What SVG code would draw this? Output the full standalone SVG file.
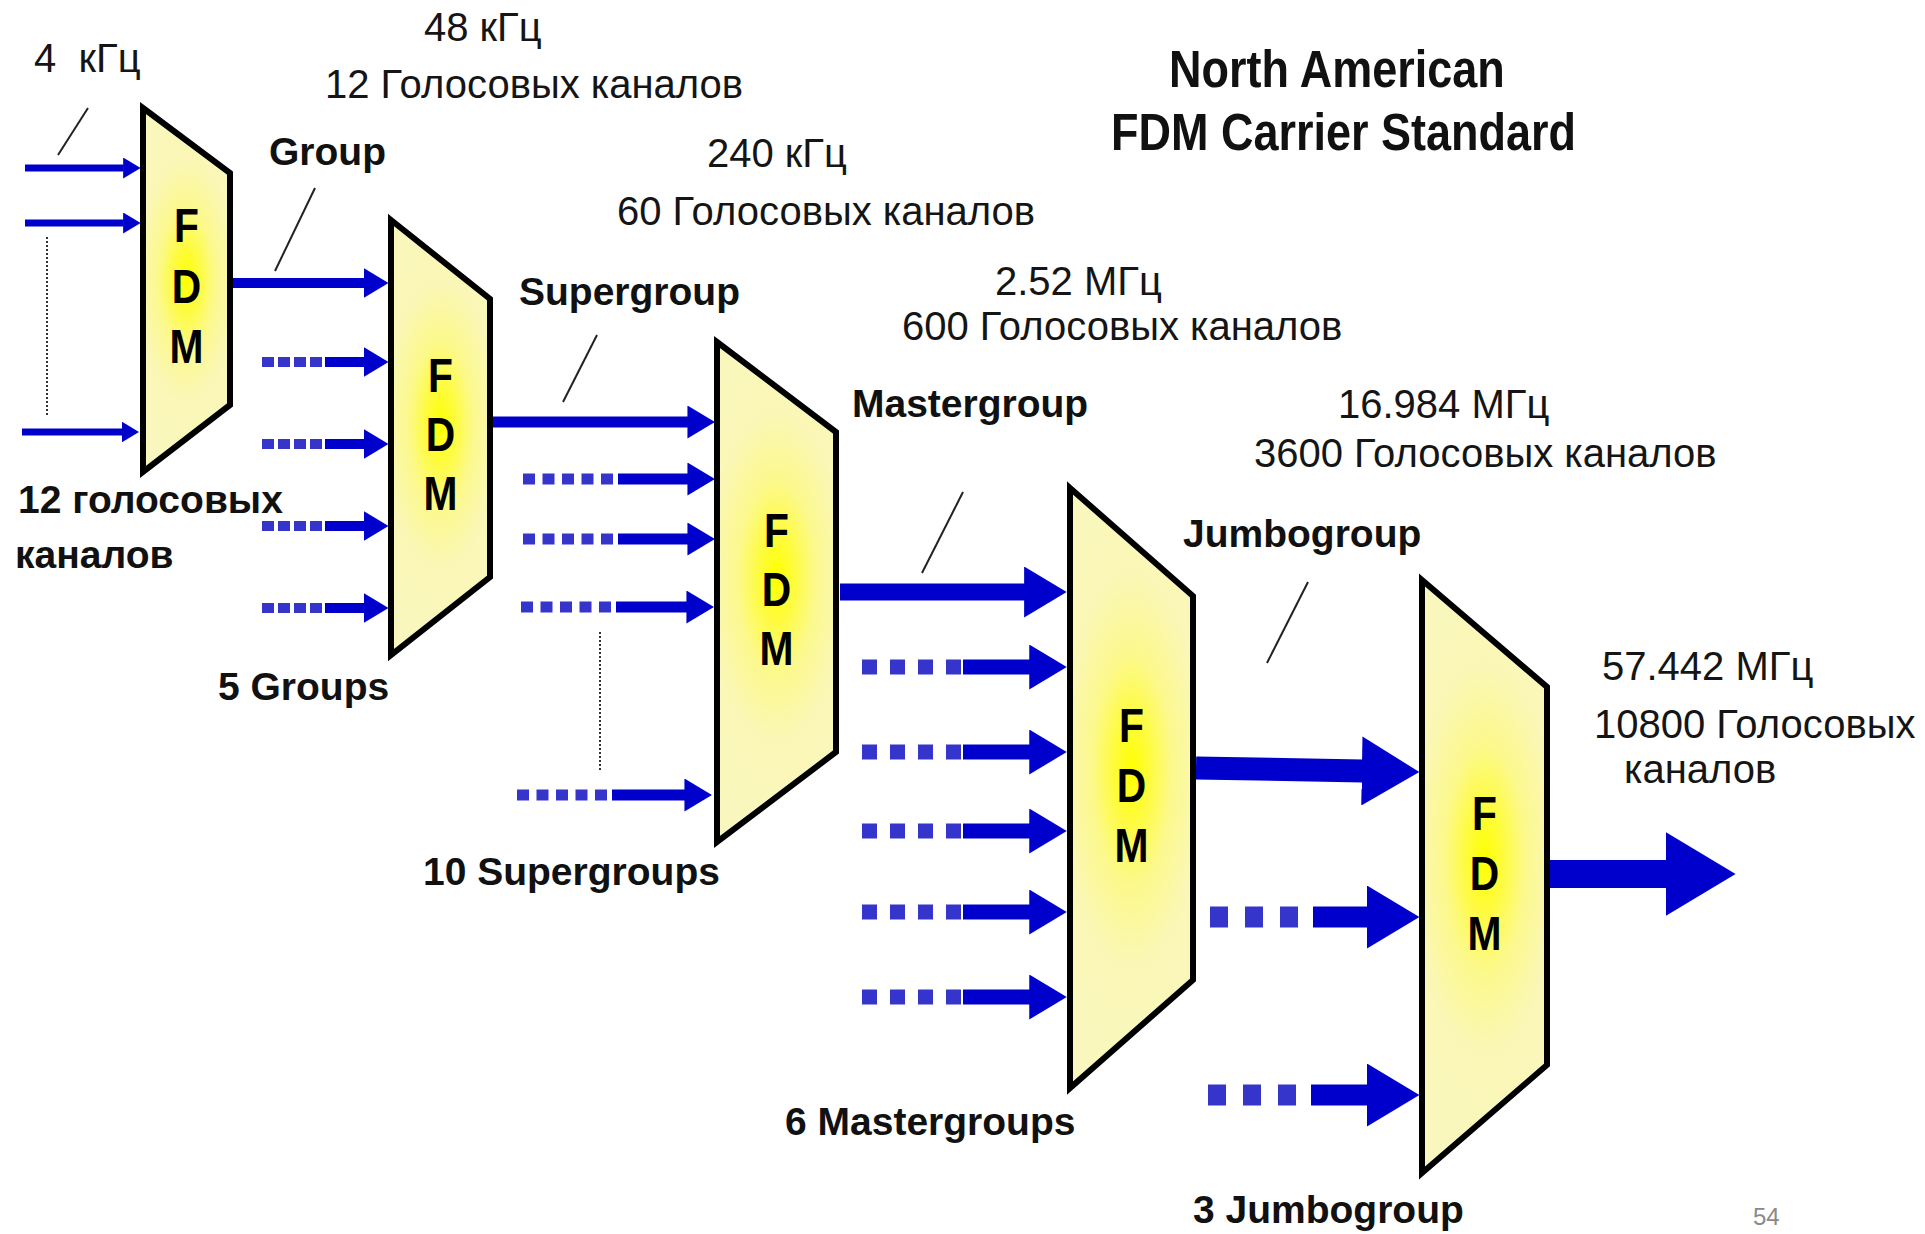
<svg xmlns="http://www.w3.org/2000/svg" width="1925" height="1234" viewBox="0 0 1925 1234">
<defs>
<style>
.fdm{stroke:#000;stroke-width:6;stroke-linejoin:miter;fill:url(#yg)}
.lt{font-family:"Liberation Sans",Arial,sans-serif;font-weight:bold;font-size:48px;fill:#000;text-anchor:middle}
.t{font-family:"Liberation Sans",Arial,sans-serif;font-size:40px;fill:#151515}
.b{font-family:"Liberation Sans",Arial,sans-serif;font-weight:bold;font-size:39px;fill:#111}
.h{font-family:"Liberation Sans",Arial,sans-serif;font-weight:bold;font-size:45px;fill:#111}
.pg{font-family:"Liberation Sans",sans-serif;font-size:24px;fill:#8a8a8a}
.sol{stroke:#0000CD;fill:none;marker-end:url(#ah)}
.dsh{stroke:#3535CC;fill:none}
.ldr{stroke:#222;stroke-width:2;fill:none}
.dot{stroke:#333;stroke-width:2;stroke-dasharray:2 2;fill:none}
</style>
<radialGradient id="yg" cx="0.5" cy="0.47" r="0.5" gradientTransform="translate(0.5 0.47) scale(1.7 1) translate(-0.5 -0.47)">
<stop offset="0" stop-color="#FFFF00"/>
<stop offset="0.18" stop-color="#FEFB40"/>
<stop offset="0.38" stop-color="#FCF98C"/>
<stop offset="0.65" stop-color="#FAF7B6"/>
<stop offset="1" stop-color="#FAF7BE"/>
</radialGradient>
<marker id="ah" viewBox="0 0 2.5 3" refX="0.05" refY="1.5" markerWidth="2.5" markerHeight="3" orient="auto" markerUnits="strokeWidth">
<path d="M0,0 L2.5,1.5 L0,3 z" fill="#0000CD"/>
</marker>
</defs>
<rect width="1925" height="1234" fill="#fff"/>

<g id="connectors">
<!-- inputs to FDM1 -->
<line class="sol" x1="25" y1="168" x2="123.5" y2="168" stroke-width="7"/>
<line class="sol" x1="25" y1="223" x2="123.5" y2="223" stroke-width="7"/>
<line class="sol" x1="22" y1="432" x2="122" y2="432" stroke-width="7"/>
<line class="dot" x1="47" y1="237" x2="47" y2="415"/>
<!-- FDM1 -> FDM2 -->
<line class="sol" x1="233" y1="283" x2="364" y2="283" stroke-width="10"/>
<!-- dashed inputs FDM2 -->
<g>
<line class="dsh" x1="262" y1="362" x2="322" y2="362" stroke-width="10" stroke-dasharray="12 4"/>
<line class="sol" x1="325" y1="362" x2="364" y2="362" stroke-width="10"/>
<line class="dsh" x1="262" y1="444" x2="322" y2="444" stroke-width="10" stroke-dasharray="12 4"/>
<line class="sol" x1="325" y1="444" x2="364" y2="444" stroke-width="10"/>
<line class="dsh" x1="262" y1="526" x2="322" y2="526" stroke-width="10" stroke-dasharray="12 4"/>
<line class="sol" x1="325" y1="526" x2="364" y2="526" stroke-width="10"/>
<line class="dsh" x1="262" y1="608" x2="322" y2="608" stroke-width="10" stroke-dasharray="12 4"/>
<line class="sol" x1="325" y1="608" x2="364" y2="608" stroke-width="10"/>
</g>
<!-- FDM2 -> FDM3 -->
<line class="sol" x1="493" y1="422" x2="688" y2="422" stroke-width="11"/>
<g>
<line class="dsh" x1="523" y1="479" x2="613" y2="479" stroke-width="11" stroke-dasharray="12 7.5"/>
<line class="sol" x1="618" y1="479" x2="688" y2="479" stroke-width="11"/>
<line class="dsh" x1="523" y1="539" x2="613" y2="539" stroke-width="11" stroke-dasharray="12 7.5"/>
<line class="sol" x1="618" y1="539" x2="688" y2="539" stroke-width="11"/>
<line class="dsh" x1="521" y1="607" x2="611" y2="607" stroke-width="11" stroke-dasharray="12 7.5"/>
<line class="sol" x1="616" y1="607" x2="687" y2="607" stroke-width="11"/>
<line class="dsh" x1="517" y1="795" x2="607" y2="795" stroke-width="11" stroke-dasharray="12 7.5"/>
<line class="sol" x1="612" y1="795" x2="685" y2="795" stroke-width="11"/>
</g>
<line class="dot" x1="600" y1="632" x2="600" y2="770"/>
<!-- FDM3 -> FDM4 -->
<line class="sol" x1="840" y1="592" x2="1025" y2="592" stroke-width="17"/>
<g>
<line class="dsh" x1="862" y1="667" x2="961" y2="667" stroke-width="15" stroke-dasharray="15 13"/>
<line class="sol" x1="963" y1="667" x2="1030" y2="667" stroke-width="15"/>
<line class="dsh" x1="862" y1="752" x2="961" y2="752" stroke-width="15" stroke-dasharray="15 13"/>
<line class="sol" x1="963" y1="752" x2="1030" y2="752" stroke-width="15"/>
<line class="dsh" x1="862" y1="831" x2="961" y2="831" stroke-width="15" stroke-dasharray="15 13"/>
<line class="sol" x1="963" y1="831" x2="1030" y2="831" stroke-width="15"/>
<line class="dsh" x1="862" y1="912" x2="961" y2="912" stroke-width="15" stroke-dasharray="15 13"/>
<line class="sol" x1="963" y1="912" x2="1030" y2="912" stroke-width="15"/>
<line class="dsh" x1="862" y1="997" x2="961" y2="997" stroke-width="15" stroke-dasharray="15 13"/>
<line class="sol" x1="963" y1="997" x2="1030" y2="997" stroke-width="15"/>
</g>
<!-- FDM4 -> FDM5 -->
<line class="sol" x1="1196" y1="768" x2="1363" y2="771" stroke-width="23"/>
<g>
<line class="dsh" x1="1210" y1="917" x2="1298" y2="917" stroke-width="21" stroke-dasharray="18 17"/>
<line class="sol" x1="1313" y1="917" x2="1368" y2="917" stroke-width="21"/>
<line class="dsh" x1="1208" y1="1095" x2="1296" y2="1095" stroke-width="21" stroke-dasharray="18 17"/>
<line class="sol" x1="1311" y1="1095" x2="1368" y2="1095" stroke-width="21"/>
</g>
<!-- output -->
<line class="sol" x1="1550" y1="874" x2="1667" y2="874" stroke-width="28"/>
<!-- leader lines -->
<line class="ldr" x1="88" y1="108" x2="58" y2="155"/>
<line class="ldr" x1="315" y1="188" x2="275" y2="271"/>
<line class="ldr" x1="597" y1="335" x2="563" y2="402"/>
<line class="ldr" x1="963" y1="492" x2="922" y2="573"/>
<line class="ldr" x1="1308" y1="582" x2="1267" y2="663"/>
</g>

<g id="fdm1">
<polygon class="fdm" points="143,108 230,173 230,405 143,472"/>
<text class="lt" transform="matrix(0.85 0 0 1 28 0)"><tspan x="186.5" y="242">F</tspan><tspan x="186.5" y="303">D</tspan><tspan x="186.5" y="363">M</tspan></text>
</g>
<g id="fdm2">
<polygon class="fdm" points="391,220 490,299 490,577 391,655"/>
<text class="lt" transform="matrix(0.85 0 0 1 66.1 0)"><tspan x="440.5" y="392">F</tspan><tspan x="440.5" y="451">D</tspan><tspan x="440.5" y="510">M</tspan></text>
</g>
<g id="fdm3">
<polygon class="fdm" points="717,342 836,432 836,752 717,842"/>
<text class="lt" transform="matrix(0.85 0 0 1 116.5 0)"><tspan x="776.5" y="547">F</tspan><tspan x="776.5" y="606">D</tspan><tspan x="776.5" y="665">M</tspan></text>
</g>
<g id="fdm4">
<polygon class="fdm" points="1070,488 1193,596 1193,980 1070,1088"/>
<text class="lt" transform="matrix(0.85 0 0 1 169.7 0)"><tspan x="1131.5" y="742">F</tspan><tspan x="1131.5" y="802">D</tspan><tspan x="1131.5" y="862">M</tspan></text>
</g>
<g id="fdm5">
<polygon class="fdm" points="1422,580 1547,687 1547,1065 1422,1173"/>
<text class="lt" transform="matrix(0.85 0 0 1 222.7 0)"><tspan x="1484.5" y="830">F</tspan><tspan x="1484.5" y="890">D</tspan><tspan x="1484.5" y="950">M</tspan></text>
</g>

<g id="labels">
<text class="t" x="34" y="72">4&#160; кГц</text>
<text class="t" x="424" y="41">48 кГц</text>
<text class="t" x="325" y="98">12 Голосовых каналов</text>
<text class="b" x="269" y="165">Group</text>
<text class="t" x="707" y="167">240 кГц</text>
<text class="t" x="617" y="225">60 Голосовых каналов</text>
<text class="b" x="519" y="305">Supergroup</text>
<text class="t" x="995" y="295">2.52 МГц</text>
<text class="t" x="902" y="340">600 Голосовых каналов</text>
<text class="b" x="852" y="417">Mastergroup</text>
<text class="t" x="1338" y="418">16.984 МГц</text>
<text class="t" x="1254" y="467">3600 Голосовых каналов</text>
<text class="b" x="1183" y="547">Jumbogroup</text>
<text class="t" x="1602" y="680">57.442 МГц</text>
<text class="t" x="1594" y="738">10800 Голосовых</text>
<text class="t" x="1624" y="783">каналов</text>
<text class="h" x="1169" y="87" transform="matrix(1 0 0 1.15 0 -13.05)">North American</text>
<text class="h" x="1111" y="150" transform="matrix(1 0 0 1.15 0 -22.5)">FDM Carrier Standard</text>
<text class="b" x="18" y="513">12 голосовых</text>
<text class="b" x="15" y="568">каналов</text>
<text class="b" x="218" y="700">5 Groups</text>
<text class="b" x="423" y="885">10 Supergroups</text>
<text class="b" x="785" y="1135">6 Mastergroups</text>
<text class="b" x="1193" y="1223">3 Jumbogroup</text>
<text class="pg" x="1753" y="1225">54</text>
</g>
</svg>
